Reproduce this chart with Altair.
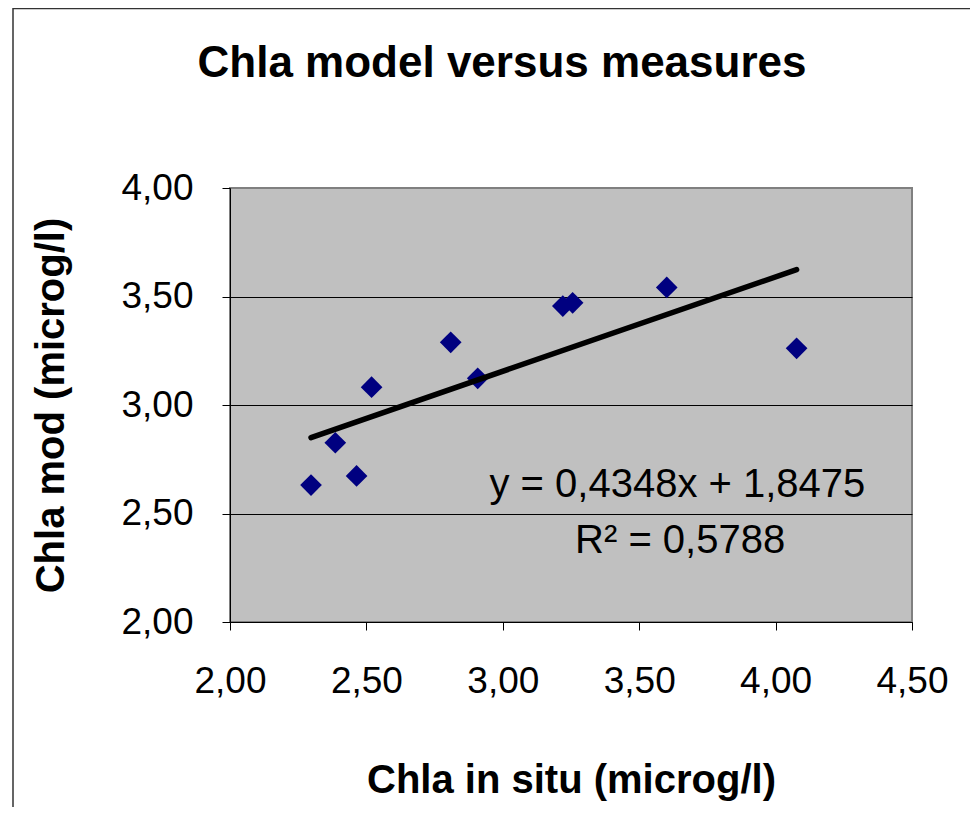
import altair as alt
import pandas as pd

# ---- data ----
x_insitu = [2.297, 2.386, 2.464, 2.519, 2.809, 2.908, 3.220, 3.256, 3.601, 4.077]
y_model = [2.631, 2.826, 2.673, 3.082, 3.289, 3.123, 3.456, 3.471, 3.542, 3.261]
x_ticks = [2.0, 2.5, 3.0, 3.5, 4.0, 4.5]
y_ticks = [2.0, 2.5, 3.0, 3.5, 4.0]
title_text = ["Chla model versus measures"]
x_title = "Chla in situ (microg/l)"
y_title = "Chla mod (microg/l)"
eq_text = ["y = 0,4348x + 1,8475"]
eq_pos = [3.64, 2.576]
r2_text = ["R² = 0,5788"]
r2_pos = [3.65, 2.318]

FONT = "Liberation Sans"
fmt = "replace(format(datum.value, '.2f'), '.', ',')"

df = pd.DataFrame({"insitu": x_insitu, "model": y_model})
xscale = alt.Scale(domain=[2, 4.5], nice=False, zero=False)
yscale = alt.Scale(domain=[2, 4], nice=False, zero=False)

frame = alt.Chart(pd.DataFrame({"k": [0]})).mark_rect(
    fillOpacity=0, stroke="#333333", strokeWidth=1.5
).encode(
    x=alt.value(-217), x2=alt.value(900), y=alt.value(-179.5), y2=alt.value(800)
)

title = alt.Chart(pd.DataFrame({"t": title_text})).mark_text(
    font=FONT, fontSize=44, fontWeight="bold", align="center", baseline="alphabetic",
    color="black"
).encode(x=alt.value(272), y=alt.value(-111), text="t:N")

points = alt.Chart(df).mark_point(
    shape="diamond", filled=True, color="#000080", size=470, opacity=1
).encode(
    x=alt.X("insitu:Q", scale=xscale,
            axis=alt.Axis(values=x_ticks, labelExpr=fmt, title=x_title, grid=False,
                          labelFlush=False, labelPadding=33, titleY=170,
                          titleBaseline="alphabetic")),
    y=alt.Y("model:Q", scale=yscale,
            axis=alt.Axis(values=y_ticks, labelExpr=fmt, title=y_title, grid=True,
                          gridColor={"condition": {"test": "datum.value >= 4", "value": "#808080"},
                                     "value": "black"},
                          labelFlush=False, labelPadding=29, titleX=-167, titleY=217,
                          titleAngle=270, titleAlign="center", titleBaseline="alphabetic")),
)

trend = alt.Chart(df).transform_regression(
    "insitu", "model", method="linear"
).mark_line(color="black", strokeWidth=5.5, strokeCap="round").encode(
    x=alt.X("insitu:Q", scale=xscale),
    y=alt.Y("model:Q", scale=yscale),
)

eq = alt.Chart(pd.DataFrame({"t": eq_text, "x": [eq_pos[0]], "y": [eq_pos[1]]})).mark_text(
    font=FONT, fontSize=40, align="center", baseline="alphabetic", color="black"
).encode(x=alt.X("x:Q", scale=xscale), y=alt.Y("y:Q", scale=yscale), text="t:N")

r2 = alt.Chart(pd.DataFrame({"t": r2_text, "x": [r2_pos[0]], "y": [r2_pos[1]]})).mark_text(
    font=FONT, fontSize=40, align="center", baseline="alphabetic", color="black"
).encode(x=alt.X("x:Q", scale=xscale), y=alt.Y("y:Q", scale=yscale), text="t:N")

chart = alt.layer(frame, title, points, trend, eq, r2).properties(
    width=682,
    height=434,
    autosize=alt.AutoSizeParams(type="none"),
    padding={"left": 222, "top": 180, "right": 58, "bottom": 185},
).configure(background="white").configure_view(
    fill="#C0C0C0", stroke="#808080", strokeWidth=2
).configure_axis(
    domainColor="black", domainWidth=1, tickColor="black", tickSize=8, tickWidth=1,
    labelFont=FONT, labelFontSize=37, labelColor="black",
    titleFont=FONT, titleFontSize=40, titleFontWeight="bold", titleColor="black",
    gridWidth=1, gridOpacity=1,
)

chart.save("out.html", embed_options={"renderer": "svg", "actions": False})
